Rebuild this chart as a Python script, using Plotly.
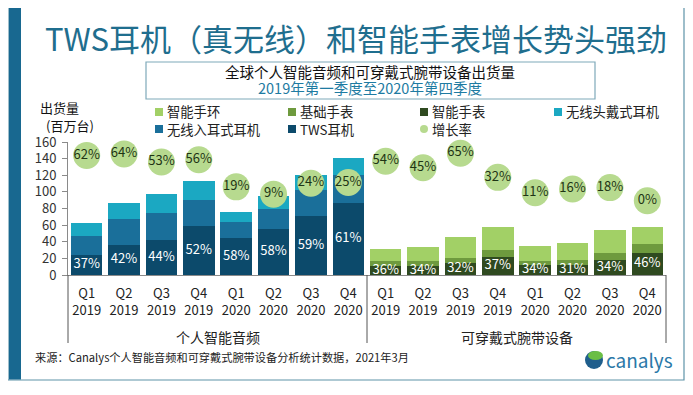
import plotly.graph_objects as go

# ---------------- data ----------------
group_audio = "个人智能音频"
group_wear = "可穿戴式腕带设备"
quarters = ["Q1<br>2019", "Q2<br>2019", "Q3<br>2019", "Q4<br>2019",
            "Q1<br>2020", "Q2<br>2020", "Q3<br>2020", "Q4<br>2020"]

# personal smart audio (million units, stacked segments)
tws = [24, 36, 42, 59, 44, 55, 71, 87]
in_ear = [23, 31, 33, 31, 20, 25, 31, 33]
headphone = [16, 20, 22, 23, 12, 15, 18, 21]
tws_share = ["37%", "42%", "44%", "52%", "58%", "58%", "59%", "61%"]
audio_growth = [0.62, 0.64, 0.53, 0.56, 0.19, 0.09, 0.24, 0.25]

# wearable band (million units, stacked segments)
smartwatch = [11.4, 11.4, 14.5, 21.5, 11.8, 12.0, 18.3, 26.5]
basic_watch = [5.0, 5.0, 6.3, 8.0, 5.0, 6.4, 8.1, 11.0]
smart_band = [15.2, 17.2, 24.4, 28.0, 18.0, 20.0, 27.6, 20.1]
sw_share = ["36%", "34%", "32%", "37%", "34%", "31%", "34%", "46%"]
wear_growth = [0.54, 0.45, 0.65, 0.32, 0.11, 0.16, 0.18, 0.00]

# ---------------- style ----------------
C_BAND = "#A2D066"
C_BASIC = "#6E9A3E"
C_SW = "#2F4A20"
C_HEAD = "#1BA8C2"
C_INEAR = "#1A6F9A"
C_TWS = "#0C4A6B"
C_BUB = "#B7DA8F"
C_AXIS = "#8A8A8A"
FONT = "Noto Sans CJK SC"

W, H = 693, 395
OFF = 8  # page body margin offset
# plot area in page pixels: x 68..666, y 142..275
L = 68 - OFF
T = 142 - OFF
R = W - (666 - OFF)
B = H - (275 - OFF)
PW, PH = W - L - R, H - T - B


def fx(px):
    return (px - OFF - L) / PW


def fy(py):
    return (H - B - (py - OFF)) / PH


n = len(quarters)
xa = list(range(n))            # audio category slots
xw = list(range(n, 2 * n))     # wearable category slots
tick_text = quarters + quarters

fig = go.Figure()


def bar(x, y, color):
    return go.Bar(
        x=x, y=y, marker=dict(color=color, line=dict(width=0)),
        showlegend=False, hoverinfo="skip",
    )


fig.add_trace(bar(xa, tws, C_TWS))
fig.add_trace(bar(xa, in_ear, C_INEAR))
fig.add_trace(bar(xa, headphone, C_HEAD))
fig.add_trace(bar(xw, smartwatch, C_SW))
fig.add_trace(bar(xw, basic_watch, C_BASIC))
fig.add_trace(bar(xw, smart_band, C_BAND))

# share labels at the middle of the bottom segment (drawn above all bars)
for x, seg, lab in ((xa, tws, tws_share), (xw, smartwatch, sw_share)):
    fig.add_trace(go.Scatter(
        x=x, y=[v / 2 for v in seg], mode="text", text=lab,
        textposition="middle center",
        textfont=dict(size=13, color="white", family=FONT),
        cliponaxis=False, showlegend=False, hoverinfo="skip",
    ))

for x, g in ((xa, audio_growth), (xw, wear_growth)):
    fig.add_trace(go.Scatter(
        x=x, y=g, yaxis="y2", mode="markers+text",
        marker=dict(size=27, color=C_BUB, line=dict(width=0)),
        text=[f"{round(v * 100)}%" for v in g], textposition="middle center",
        textfont=dict(size=13, color="#1E3414", family=FONT),
        cliponaxis=False, showlegend=False, hoverinfo="skip",
    ))

shapes = []
# outer frame and left stripe
shapes.append(dict(type="rect", xref="paper", yref="paper",
                   x0=fx(8), x1=fx(684), y0=fy(5), y1=fy(380),
                   line=dict(color="#5E93A8", width=1.2), fillcolor="rgba(0,0,0,0)", layer="below"))
shapes.append(dict(type="rect", xref="paper", yref="paper",
                   x0=fx(9), x1=fx(21), y0=fy(5.5), y1=fy(379.5),
                   line=dict(width=0), fillcolor="#186890", layer="below"))
# subtitle box
shapes.append(dict(type="rect", xref="paper", yref="paper",
                   x0=fx(146), x1=fx(595), y0=fy(62), y1=fy(99),
                   line=dict(color="#7FA9BA", width=1.2), fillcolor="rgba(0,0,0,0)"))
# group dividers below the axis
for xd in (0, 0.5, 1):
    shapes.append(dict(type="line", xref="x domain", yref="paper",
                       x0=xd, x1=xd, y0=0, y1=fy(343),
                       line=dict(color="#555", width=1)))

annotations = []


def ann(text, x, y, size, color="#222", xanchor="left", yanchor="middle", **kw):
    annotations.append(dict(text=text, x=fx(x), y=fy(y), xref="paper", yref="paper",
                            xanchor=xanchor, yanchor=yanchor, showarrow=False,
                            font=dict(size=size, color=color, family=FONT), **kw))


ann("TWS耳机（真无线）和智能手表增长势头强劲", 356, 37, 31, "#1F6E8E", xanchor="center")
ann("全球个人智能音频和可穿戴式腕带设备出货量", 370, 72, 14.5, "#111", xanchor="center")
ann("2019年第一季度至2020年第四季度", 370, 88, 14.5, "#1E7BA2", xanchor="center")
ann("出货量", 38, 107, 13, "#111")
ann("(百万台)", 44, 125, 13, "#111")

# group labels centred under each half of the category axis
for gx, gname in ((0.25, group_audio), (0.75, group_wear)):
    annotations.append(dict(text=gname, x=gx, y=fy(337), xref="x domain", yref="paper",
                            xanchor="center", yanchor="middle", showarrow=False,
                            font=dict(size=14, color="#222", family=FONT)))

legend_items = [
    ("智能手环", C_BAND, 159, 112, "sq"),
    ("基础手表", C_BASIC, 292, 112, "sq"),
    ("智能手表", C_SW, 424, 112, "sq"),
    ("无线头戴式耳机", C_HEAD, 558, 112, "sq"),
    ("无线入耳式耳机", C_INEAR, 159, 129, "sq"),
    ("TWS耳机", C_TWS, 292, 129, "sq"),
    ("增长率", C_BUB, 424, 129, "ci"),
]
for name, col, x, y, kind in legend_items:
    shapes.append(dict(type="rect" if kind == "sq" else "circle", xref="paper", yref="paper",
                       x0=fx(x - 4), x1=fx(x + 4), y0=fy(y - 4), y1=fy(y + 4),
                       line=dict(width=0), fillcolor=col))
    ann(name, x + 6, y, 13.3, "#222")

ann("来源：Canalys个人智能音频和可穿戴式腕带设备分析统计数据，2021年3月", 33, 357, 11.2, "#222")

# canalys logo
shapes.append(dict(type="circle", xref="paper", yref="paper",
                   x0=fx(585), x1=fx(603), y0=fy(351), y1=fy(369),
                   line=dict(width=0), fillcolor="#1F5E8C"))
shapes.append(dict(type="circle", xref="paper", yref="paper",
                   x0=fx(588), x1=fx(603), y0=fy(351), y1=fy(360),
                   line=dict(width=0), fillcolor="#6BBE45"))
ann("canalys", 604, 359, 19, "#2A78A8")

fig.update_layout(
    width=W, height=H,
    margin=dict(l=L, r=R, t=T, b=B, autoexpand=False),
    paper_bgcolor="white", plot_bgcolor="white",
    barmode="stack", bargap=0.16,
    font=dict(family=FONT, size=13, color="#222"),
    xaxis=dict(range=[-0.5, 2 * n - 0.5], tickmode="array", tickvals=xa + xw,
               ticktext=tick_text, showline=True, linecolor=C_AXIS, linewidth=1,
               ticks="", showgrid=False, zeroline=False, tickangle=0, automargin=False,
               ticklabelstandoff=6, tickfont=dict(size=13, color="#222")),
    yaxis=dict(range=[0, 160], dtick=20, showgrid=False, zeroline=False,
               showline=True, linecolor=C_AXIS, linewidth=1,
               ticks="outside", ticklen=5, tickcolor=C_AXIS, tickwidth=1,
               tickfont=dict(size=13, color="#333"), ticklabelstandoff=3,
               automargin=False),
    yaxis2=dict(overlaying="y", range=[-1.015, 0.803], visible=False, automargin=False),
    shapes=shapes, annotations=annotations,
)

fig.write_html("out.html")
